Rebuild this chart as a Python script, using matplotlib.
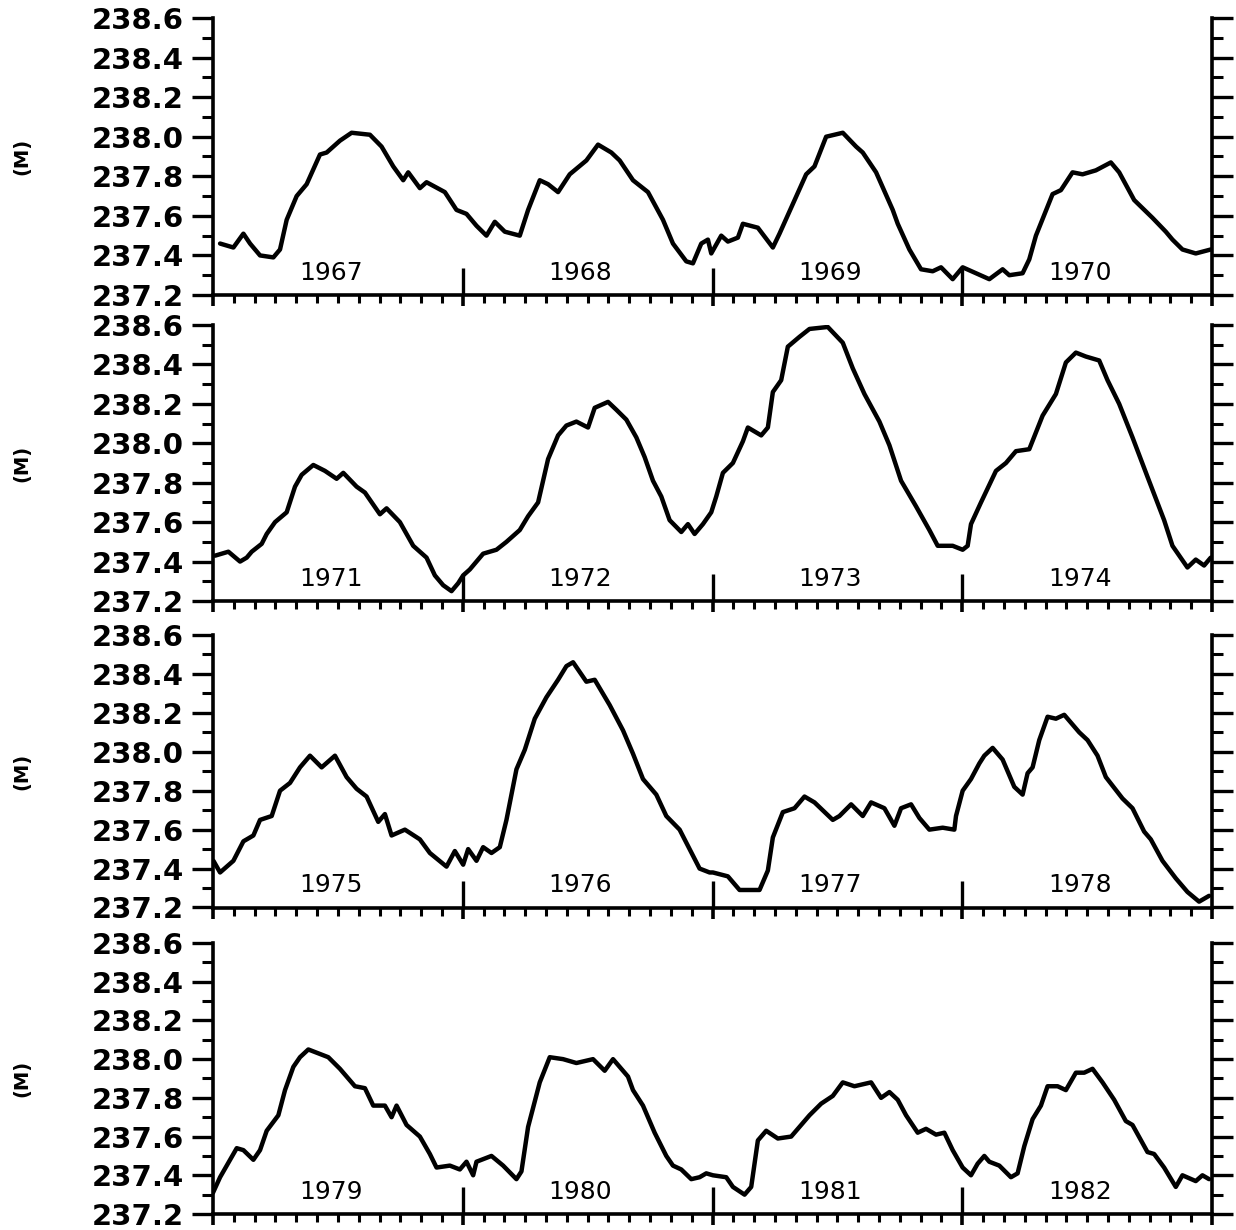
import matplotlib
matplotlib.use("Agg")
import matplotlib.pyplot as plt
from matplotlib.ticker import MultipleLocator, FixedLocator, FormatStrFormatter

# ---------------- data (months since January of first year of each panel, level in m) -------------
years_p1 = ["1967", "1968", "1969", "1970"]
months_p1 = [0.34, 0.98, 1.46, 1.78, 2.26, 2.90, 3.22, 3.54, 4.02, 4.50, 5.14, 5.46, 6.10, 6.66, 7.54,
             8.10, 8.66, 9.14, 9.38, 9.94, 10.26, 11.14, 11.70, 12.18, 12.66, 13.14, 13.54, 14.02, 14.74,
             15.14, 15.70, 16.10, 16.58, 17.14, 17.94, 18.50, 19.14, 19.54, 20.18, 20.90, 21.62, 22.10,
             22.74, 23.06, 23.46, 23.78, 23.94, 24.42, 24.74, 25.22, 25.46, 26.18, 26.90, 27.22, 27.86,
             28.50, 28.90, 29.46, 30.26, 30.90, 31.22, 31.86, 32.66, 32.90, 33.46, 34.02, 34.58, 34.98,
             35.54, 36.02, 36.66, 37.30, 37.94, 38.26, 38.90, 39.22, 39.54, 40.34, 40.74, 41.30, 41.78,
             42.42, 43.14, 43.54, 44.26, 45.14, 45.78, 46.10, 46.58, 47.22, 47.94]
level_p1 = [237.46, 237.44, 237.51, 237.46, 237.40, 237.39, 237.43, 237.58, 237.70, 237.76, 237.91, 237.92,
            237.98, 238.02, 238.01, 237.95, 237.85, 237.78, 237.82, 237.74, 237.77, 237.72, 237.63, 237.61,
            237.55, 237.50, 237.57, 237.52, 237.50, 237.63, 237.78, 237.76, 237.72, 237.81, 237.88, 237.96,
            237.92, 237.88, 237.78, 237.72, 237.58, 237.46, 237.37, 237.36, 237.46, 237.48, 237.41, 237.50,
            237.47, 237.49, 237.56, 237.54, 237.44, 237.51, 237.66, 237.81, 237.85, 238.00, 238.02, 237.95,
            237.92, 237.82, 237.63, 237.56, 237.43, 237.33, 237.32, 237.34, 237.28, 237.34, 237.31, 237.28,
            237.33, 237.30, 237.31, 237.38, 237.50, 237.71, 237.73, 237.82, 237.81, 237.83, 237.87, 237.82,
            237.68, 237.59, 237.52, 237.48, 237.43, 237.41, 237.43]

years_p2 = ["1971", "1972", "1973", "1974"]
months_p2 = [0.10, 0.74, 1.30, 1.62, 1.86, 2.34, 2.58, 2.98, 3.54, 3.94, 4.26, 4.82, 5.38, 5.94, 6.26, 6.90,
             7.30, 8.02, 8.34, 8.98, 9.62, 10.26, 10.66, 11.06, 11.46, 11.78, 12.02, 12.34, 12.98, 13.62,
             14.10, 14.74, 15.14, 15.62, 15.86, 16.10, 16.58, 16.98, 17.46, 18.02, 18.34, 18.98, 19.38,
             19.86, 20.34, 20.74, 21.14, 21.54, 21.94, 22.50, 22.82, 23.14, 23.54, 23.94, 24.18, 24.50,
             24.98, 25.46, 25.70, 26.34, 26.66, 26.90, 27.30, 27.62, 28.18, 28.66, 29.54, 30.26, 30.74,
             31.30, 32.02, 32.50, 33.06, 33.78, 34.42, 34.82, 35.54, 36.02, 36.26, 36.42, 36.90, 37.62,
             38.10, 38.58, 39.22, 39.86, 40.50, 40.98, 41.46, 41.94, 42.58, 42.98, 43.54, 44.18, 44.90,
             45.70, 46.10, 46.82, 47.22, 47.62, 47.94]
level_p2 = [237.43, 237.45, 237.40, 237.42, 237.45, 237.49, 237.54, 237.60, 237.65, 237.78, 237.84, 237.89,
            237.86, 237.82, 237.85, 237.78, 237.75, 237.64, 237.67, 237.60, 237.48, 237.42, 237.33, 237.28,
            237.25, 237.29, 237.33, 237.36, 237.44, 237.46, 237.50, 237.56, 237.63, 237.70, 237.81, 237.92,
            238.04, 238.09, 238.11, 238.08, 238.18, 238.21, 238.17, 238.12, 238.03, 237.93, 237.81, 237.73,
            237.61, 237.55, 237.59, 237.54, 237.59, 237.65, 237.73, 237.85, 237.90, 238.01, 238.08, 238.04,
            238.08, 238.26, 238.32, 238.49, 238.54, 238.58, 238.59, 238.51, 238.38, 238.25, 238.11, 237.99,
            237.81, 237.68, 237.56, 237.48, 237.48, 237.46, 237.48, 237.59, 237.70, 237.86, 237.90, 237.96,
            237.97, 238.14, 238.25, 238.41, 238.46, 238.44, 238.42, 238.32, 238.20, 238.03, 237.83, 237.61,
            237.48, 237.37, 237.41, 237.38, 237.42]

years_p3 = ["1975", "1976", "1977", "1978"]
months_p3 = [0.02, 0.34, 0.98, 1.46, 1.94, 2.26, 2.82, 3.22, 3.70, 4.18, 4.66, 5.22, 5.86, 6.42, 6.90, 7.38,
             7.94, 8.26, 8.58, 9.22, 9.94, 10.42, 11.22, 11.62, 12.02, 12.26, 12.66, 12.98, 13.38, 13.78,
             14.10, 14.58, 14.98, 15.46, 16.02, 16.58, 16.98, 17.30, 17.94, 18.34, 19.06, 19.70, 20.18,
             20.66, 21.30, 21.78, 22.42, 22.90, 23.38, 23.86, 24.02, 24.74, 25.30, 26.26, 26.66, 26.90,
             27.38, 27.94, 28.42, 28.90, 29.78, 30.10, 30.66, 31.22, 31.62, 32.26, 32.74, 33.06, 33.54,
             33.94, 34.42, 35.06, 35.62, 35.70, 36.02, 36.42, 36.82, 37.06, 37.46, 37.94, 38.50, 38.90,
             39.14, 39.38, 39.70, 40.10, 40.50, 40.90, 41.62, 42.02, 42.50, 42.90, 43.70, 44.18, 44.74,
             45.06, 45.62, 46.26, 46.82, 47.38, 47.86]
level_p3 = [237.44, 237.38, 237.44, 237.54, 237.57, 237.65, 237.67, 237.80, 237.84, 237.92, 237.98, 237.92,
            237.98, 237.87, 237.81, 237.77, 237.64, 237.68, 237.57, 237.60, 237.55, 237.48, 237.41, 237.49,
            237.42, 237.50, 237.44, 237.51, 237.48, 237.51, 237.65, 237.91, 238.01, 238.17, 238.28, 238.37,
            238.44, 238.46, 238.36, 238.37, 238.24, 238.11, 237.99, 237.86, 237.78, 237.67, 237.60, 237.50,
            237.40, 237.38, 237.38, 237.36, 237.29, 237.29, 237.39, 237.56, 237.69, 237.71, 237.77, 237.74,
            237.65, 237.67, 237.73, 237.67, 237.74, 237.71, 237.62, 237.71, 237.73, 237.66, 237.60, 237.61,
            237.60, 237.67, 237.80, 237.86, 237.94, 237.98, 238.02, 237.96, 237.82, 237.78, 237.89, 237.92,
            238.06, 238.18, 238.17, 238.19, 238.10, 238.06, 237.98, 237.87, 237.76, 237.71, 237.59, 237.55,
            237.44, 237.35, 237.28, 237.23, 237.26]

years_p4 = ["1979", "1980", "1981", "1982"]
months_p4 = [0.00, 0.34, 0.82, 1.14, 1.46, 1.94, 2.26, 2.58, 3.14, 3.46, 3.86, 4.18, 4.58, 5.06, 5.54, 6.10,
             6.82, 7.30, 7.70, 8.26, 8.58, 8.82, 9.30, 9.94, 10.42, 10.74, 11.38, 11.86, 12.18, 12.50, 12.66,
             13.38, 13.94, 14.58, 14.82, 15.14, 15.70, 16.18, 16.82, 17.46, 18.26, 18.82, 19.22, 19.94,
             20.18, 20.66, 21.22, 21.78, 22.10, 22.50, 22.98, 23.38, 23.70, 24.02, 24.66, 24.98, 25.54,
             25.86, 26.18, 26.58, 27.14, 27.78, 28.18, 28.66, 29.22, 29.78, 30.26, 30.82, 31.62, 32.10,
             32.50, 32.90, 33.30, 33.86, 34.26, 34.74, 35.14, 35.54, 36.02, 36.42, 36.74, 37.06, 37.30,
             37.78, 38.34, 38.66, 38.98, 39.38, 39.78, 40.10, 40.58, 40.98, 41.46, 41.86, 42.26, 42.74,
             43.30, 43.86, 44.18, 44.90, 45.22, 45.70, 46.26, 46.58, 47.22, 47.54, 47.86]
level_p4 = [237.31, 237.39, 237.48, 237.54, 237.53, 237.48, 237.53, 237.63, 237.71, 237.84, 237.96, 238.01,
            238.05, 238.03, 238.01, 237.95, 237.86, 237.85, 237.76, 237.76, 237.70, 237.76, 237.66, 237.60,
            237.51, 237.44, 237.45, 237.43, 237.47, 237.40, 237.47, 237.50, 237.45, 237.38, 237.42, 237.65,
            237.88, 238.01, 238.00, 237.98, 238.00, 237.94, 238.00, 237.91, 237.84, 237.76, 237.62, 237.50,
            237.45, 237.43, 237.38, 237.39, 237.41, 237.40, 237.39, 237.34, 237.30, 237.34, 237.58, 237.63,
            237.59, 237.60, 237.65, 237.71, 237.77, 237.81, 237.88, 237.86, 237.88, 237.80, 237.83, 237.79,
            237.71, 237.62, 237.64, 237.61, 237.62, 237.53, 237.44, 237.40, 237.46, 237.50, 237.47, 237.45,
            237.39, 237.41, 237.55, 237.69, 237.76, 237.86, 237.86, 237.84, 237.93, 237.93, 237.95, 237.88,
            237.79, 237.68, 237.66, 237.52, 237.51, 237.44, 237.34, 237.40, 237.37, 237.40, 237.38]

y_min, y_max = 237.2, 238.6
y_label = "(M)"

panels = [
    (years_p1, months_p1, level_p1),
    (years_p2, months_p2, level_p2),
    (years_p3, months_p3, level_p3),
    (years_p4, months_p4, level_p4),
]

# ---------------- layout ----------------
W, H = 1236, 1230
fig = plt.figure(figsize=(W / 100, H / 100), dpi=100)
fig.patch.set_facecolor("white")

# panel pixel extents (top, bottom)
panel_px = [(18, 295), (325, 601), (635, 907.5), (943, 1214)]
left_px, right_px = 213, 1212

for (years, months, level), (ptop, pbot) in zip(panels, panel_px):
    ax = fig.add_axes([left_px / W, 1 - pbot / H, (right_px - left_px) / W, (pbot - ptop) / H])
    n_months = 12 * len(years)
    ax.plot(months, level, color="black", lw=3.2, solid_joinstyle="round", solid_capstyle="round")
    ax.set_xlim(0, n_months)
    ax.set_ylim(y_min, y_max)

    for s in ("left", "right", "bottom"):
        ax.spines[s].set_linewidth(2.6)
    ax.spines["top"].set_visible(False)

    ax.yaxis.set_major_locator(MultipleLocator(0.2))
    ax.yaxis.set_minor_locator(MultipleLocator(0.1))
    ax.yaxis.set_major_formatter(FormatStrFormatter("%.1f"))
    ax.tick_params(axis="y", which="major", direction="out", length=15, width=2.4,
                   left=True, right=True, labelleft=True, labelright=False, pad=6,
                   labelsize=21)
    ax.tick_params(axis="y", which="minor", direction="out", length=8, width=2.2,
                   left=True, right=True)
    for lab in ax.get_yticklabels():
        lab.set_fontweight("bold")

    year_bounds = list(range(0, n_months + 1, 12))
    month_ticks = [m for m in range(1, n_months) if m % 12 != 0]
    ax.xaxis.set_major_locator(FixedLocator(year_bounds))
    ax.xaxis.set_minor_locator(FixedLocator(month_ticks))
    ax.tick_params(axis="x", which="major", direction="out", length=8, width=2.6,
                   labelbottom=False, top=False)
    ax.tick_params(axis="x", which="minor", direction="out", length=6, width=2.2, top=False)

    # upward year-boundary marks
    ax.vlines(year_bounds[1:-1], 0, 27 / (pbot - ptop), transform=ax.get_xaxis_transform(),
              color="black", lw=2.4, clip_on=False)

    for i, yr in enumerate(years):
        ax.text(12 * i + 5.65, 10 / (pbot - ptop), yr, transform=ax.get_xaxis_transform(),
                ha="center", va="bottom", fontsize=18, color="black")

    fig.text(22 / W, 1 - (ptop + pbot) / 2 / H, y_label, rotation=90, ha="center", va="center",
             fontsize=14, fontweight="bold")

fig.savefig("out.png", dpi=100, facecolor="white")
